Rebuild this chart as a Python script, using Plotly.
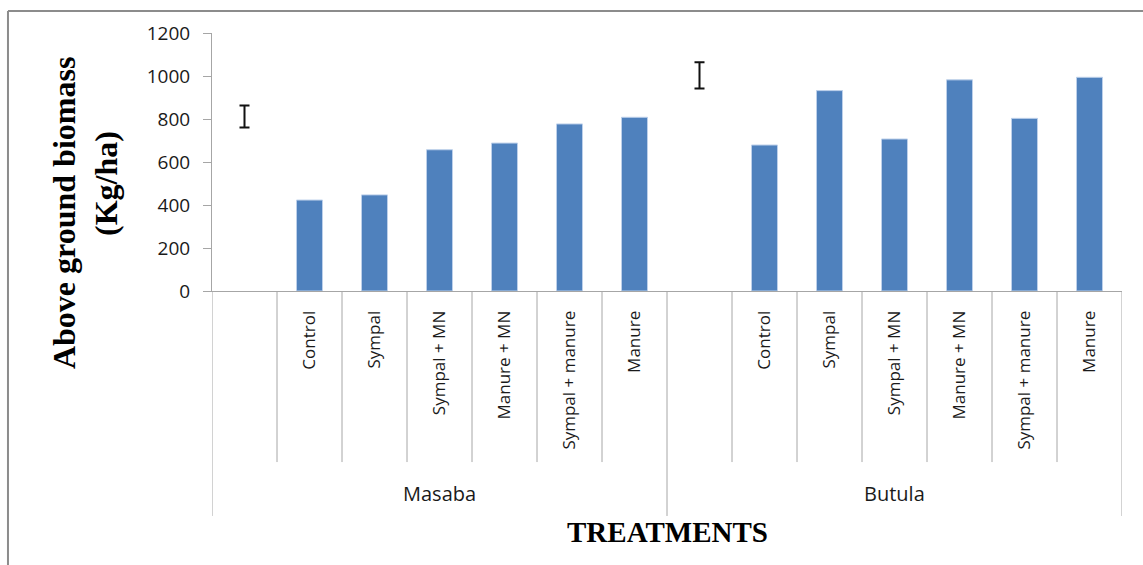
import plotly.graph_objects as go

# ---- data ----
groups = ["Masaba", "Butula"]
treatments = ["Control", "Sympal", "Sympal + MN", "Manure + MN", "Sympal + manure", "Manure"]
masaba_biomass = [423, 447, 657, 688, 777, 808]
butula_biomass = [679, 932, 707, 982, 803, 994]
# LSD-style bars drawn in the empty slot at the start of each group
lsd_position = [812, 1003]
lsd_half = [51, 61]
y_ticks = [0, 200, 400, 600, 800, 1000, 1200]

biomass = {"Masaba": masaba_biomass, "Butula": butula_biomass}

# ---- categories (one blank slot at the start of each group) ----
cats, ticktext = [], []
bar_x, bar_y = [], []
blank_x = []
for g in groups:
    blank = g + "|"
    cats.append(blank)
    ticktext.append("")
    blank_x.append(blank)
    for t, v in zip(treatments, biomass[g]):
        c = g + "|" + t
        cats.append(c)
        ticktext.append(t)
        bar_x.append(c)
        bar_y.append(v)

AX = "#A6A6A6"
LBL = "Open Sans"
SERIF = "Liberation Serif"

fig = go.Figure()
fig.add_trace(go.Bar(
    x=bar_x, y=bar_y, width=0.4,
    marker=dict(color="#4F81BD", line=dict(color="#BDD0EA", width=1)),
    showlegend=False, hoverinfo="y",
))
fig.add_trace(go.Scatter(
    x=blank_x, y=lsd_position, mode="markers",
    marker=dict(size=1, color="rgba(0,0,0,0)"),
    error_y=dict(type="data", array=lsd_half, visible=True,
                 color="#111111", thickness=2, width=5),
    showlegend=False, hoverinfo="skip",
))

n = len(cats)
per_group = len(treatments) + 1
shapes = []
# divider lines below the category axis
for i in range(n + 1):
    outer = (i % per_group == 0)
    shapes.append(dict(
        type="line", xref="x", yref="paper",
        x0=i - 0.5, x1=i - 0.5, y0=0, y1=-0.872 if outer else -0.663,
        line=dict(color=AX, width=1),
    ))
# outer frame (left + top)
shapes.append(dict(type="line", xref="paper", yref="paper",
                   x0=-0.2242, x1=-0.2242, y0=1.0853, y1=-1.2,
                   line=dict(color="#8C8C8C", width=2)))
shapes.append(dict(type="line", xref="paper", yref="paper",
                   x0=-0.2242, x1=1.1, y0=1.0853, y1=1.0853,
                   line=dict(color="#8C8C8C", width=2)))

annotations = []
for gi, g in enumerate(groups):
    annotations.append(dict(
        text=g, xref="x", yref="paper",
        x=gi * per_group + (per_group - 1) / 2, y=-0.783,
        showarrow=False, xanchor="center", yanchor="middle",
        font=dict(family=LBL, size=20, color="#1a1a1a"),
    ))
annotations.append(dict(
    text="<b>TREATMENTS</b>", xref="paper", yref="paper",
    x=0.5, y=-0.936, showarrow=False, xanchor="center", yanchor="middle",
    font=dict(family=SERIF, size=29, color="#000"),
))
annotations.append(dict(
    text="<b>Above ground biomass</b>", xref="paper", yref="paper",
    x=-0.1626, y=0.3023, showarrow=False, xanchor="center", yanchor="middle",
    textangle=-90, font=dict(family=SERIF, size=32, color="#000"),
))
annotations.append(dict(
    text="<b>(Kg/ha)</b>", xref="paper", yref="paper",
    x=-0.1165, y=0.4186, showarrow=False, xanchor="center", yanchor="middle",
    textangle=-90, font=dict(family=SERIF, size=32, color="#000"),
))

fig.update_layout(
    width=1143, height=565,
    margin=dict(l=212, r=21, t=33, b=274, pad=0),
    paper_bgcolor="white", plot_bgcolor="white",
    xaxis=dict(
        type="category", categoryorder="array", categoryarray=cats,
        tickvals=cats, ticktext=ticktext, tickangle=-90,
        range=[-0.5, n - 0.5], ticks="", showgrid=False, zeroline=False,
        showline=True, linecolor=AX, linewidth=1, ticklabelstandoff=12,
        tickfont=dict(family=LBL, size=17, color="#1a1a1a"),
    ),
    yaxis=dict(
        range=[0, 1200], tickvals=y_ticks, ticks="outside", ticklen=8,
        tickcolor=AX, showline=True, linecolor=AX, linewidth=1,
        showgrid=False, zeroline=False, ticklabelstandoff=9,
        tickfont=dict(family=LBL, size=19, color="#1a1a1a"),
    ),
    shapes=shapes, annotations=annotations,
)

fig.write_html("out.html")
